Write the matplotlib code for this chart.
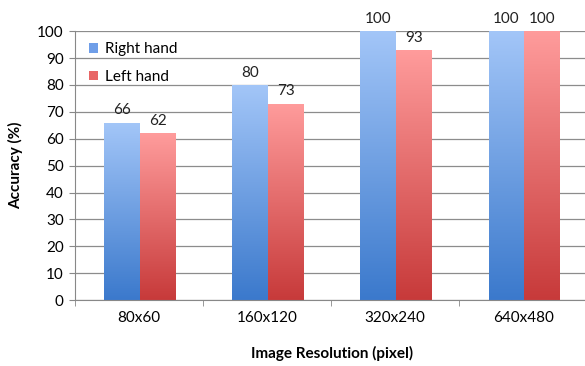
import matplotlib.pyplot as plt
import numpy as np
from matplotlib.colors import LinearSegmentedColormap

# Genauigkeit je Bildaufloesung
aufloesungen = ['80x60', '160x120', '320x240', '640x480']
rechte_hand = [66, 80, 100, 100]
linke_hand = [62, 73, 93, 100]

plt.rcParams['font.family'] = ['Lato', 'DejaVu Sans']

fig = plt.figure(figsize=(5.85, 3.66), dpi=100)
ax = fig.add_axes([0.128, 0.180, 0.88, 0.735])

x = np.arange(len(aufloesungen))
breite = 0.28

blau = LinearSegmentedColormap.from_list('blau', ['#3b79cc', '#a3c6f8'])
rot = LinearSegmentedColormap.from_list('rot', ['#c73a3a', '#ff9c9c'])
verlauf = np.linspace(0, 1, 256).reshape(-1, 1)


def verlauf_balken(balken, cmap):
    # Jeden Balken mit einem senkrechten Farbverlauf fuellen
    for b in balken:
        x0, y0 = b.get_x(), b.get_y()
        w, h = b.get_width(), b.get_height()
        b.set_facecolor('none')
        img = ax.imshow(verlauf, cmap=cmap, origin='lower', aspect='auto',
                        extent=(x0, x0 + w, y0, y0 + h), zorder=2)
        img.set_clip_path(b)


b1 = ax.bar(x - breite / 2 + 0.01, rechte_hand, breite, label='Right hand', color='#7fadf0', zorder=2)
b2 = ax.bar(x + breite / 2 + 0.01, linke_hand, breite, label='Left hand', color='#f07878', zorder=2)
verlauf_balken(b1, blau)
verlauf_balken(b2, rot)

for b, v in zip(b1, rechte_hand):
    ax.text(b.get_x() + b.get_width() / 2, v + 2, str(v), ha='center', va='bottom',
            fontsize=11, color='#222222')
for b, v in zip(b2, linke_hand):
    ax.text(b.get_x() + b.get_width() / 2, v + 2, str(v), ha='center', va='bottom',
            fontsize=11, color='#222222')

ax.set_xlim(-0.5, 3.52)
ax.set_ylim(0, 100)
ax.set_yticks(range(0, 101, 10))
ax.set_xticks(x)
ax.set_xticklabels(aufloesungen)
ax.set_xticks(np.arange(-0.5, 3.6, 1), minor=True)
ax.tick_params(axis='x', which='major', length=0, pad=8, labelsize=11)
ax.tick_params(axis='x', which='minor', length=4, color='#888888', direction='out')
ax.tick_params(axis='y', length=4, color='#888888', labelsize=11, pad=4)
ax.yaxis.grid(True, color='#8c8c8c', linewidth=0.9)
ax.set_axisbelow(True)

for s in ['top', 'right']:
    ax.spines[s].set_visible(False)
for s in ['left', 'bottom']:
    ax.spines[s].set_color('#888888')

ax.set_xlabel('Image Resolution (pixel)', fontsize=11, fontweight='bold', labelpad=15)
ax.set_ylabel('Accuracy (%)', fontsize=11, fontweight='bold', labelpad=10)

leg = ax.legend(loc='upper left', bbox_to_anchor=(0.0, 1.01), frameon=False,
                fontsize=11, handlelength=0.6, handleheight=0.6,
                labelspacing=0.9, handletextpad=0.5)
leg.legend_handles[0].set_facecolor('#6f9ee8')
leg.legend_handles[1].set_facecolor('#e86666')

fig.savefig('out.png', dpi=100)
